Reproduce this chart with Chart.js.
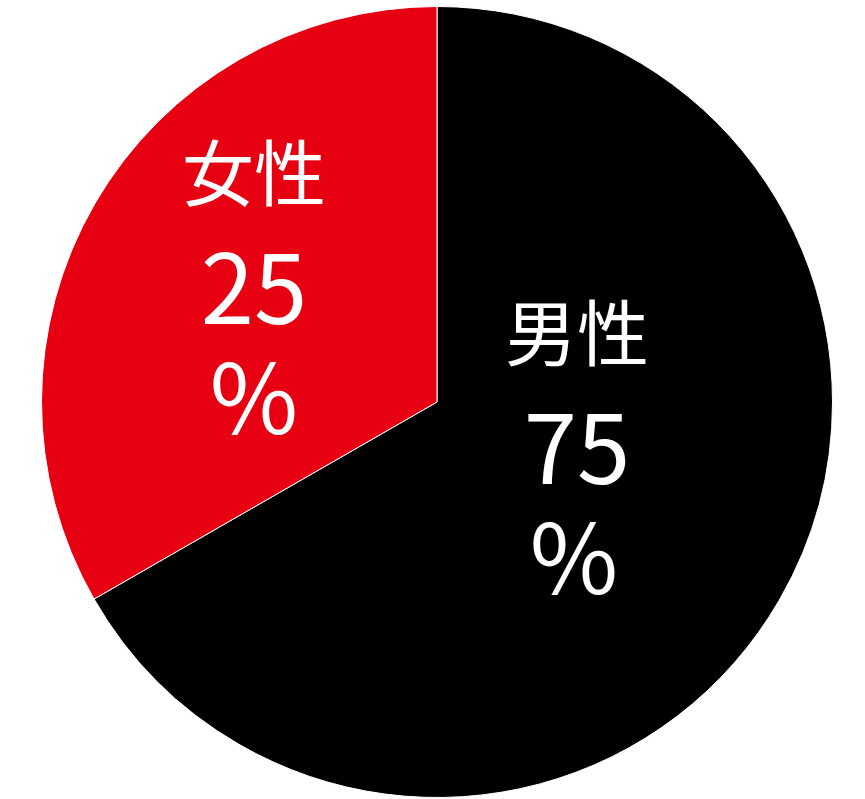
<!DOCTYPE html>
<html lang="ja">
<head>
  <meta charset="UTF-8">
  <title>男女比</title>
  <script src="https://cdn.jsdelivr.net/npm/chart.js"></script>
  <style>
    html, body { margin: 0; padding: 0; background: #fff; }
    canvas { display: block; }
  </style>
</head>
<body>
  <canvas id="myChart" width="865" height="799"></canvas>

  <script>
    // slice sizes as drawn in the picture (the red slice covers about a third)
    const categories = ['男性', '女性'];
    const sliceValues = [66.7, 33.3];
    // percentages printed on the slices
    const percentLabels = ['75', '25'];
    const sliceColors = ['#000000', '#E60012'];

    // where each label block sits, relative to the pie centre (px)
    const labelOffsets = [
      { x: 140, y: [-69, 46, 156] },
      { x: -183, y: [-229, -114, -4] }
    ];

    const sliceLabels = {
      id: 'sliceLabels',
      afterDatasetsDraw(chart) {
        const ctx = chart.ctx;
        const arc = chart.getDatasetMeta(0).data[0];
        const cx = arc.x;
        const cy = arc.y;
        ctx.save();
        ctx.fillStyle = '#ffffff';
        ctx.textAlign = 'center';
        ctx.textBaseline = 'middle';
        categories.forEach((name, i) => {
          const off = labelOffsets[i];
          ctx.font = '72px "Noto Sans CJK JP"';
          ctx.fillText(name, cx + off.x, cy + off.y[0]);
          ctx.font = '96px "Noto Sans CJK JP"';
          ctx.fillText(percentLabels[i], cx + off.x, cy + off.y[1]);
          ctx.fillText('%', cx + off.x - 3 * (i === 0 ? 1 : 0), cy + off.y[2]);
        });
        ctx.restore();
      }
    };

    const ctx = document.getElementById('myChart').getContext('2d');
    const myChart = new Chart(ctx, {
      type: 'pie',
      data: {
        labels: categories,
        datasets: [{
          data: sliceValues,
          backgroundColor: sliceColors,
          borderColor: '#ffffff',
          borderWidth: 1
        }]
      },
      options: {
        responsive: false,
        animation: false,
        devicePixelRatio: 1,
        layout: { padding: { top: 6, bottom: 1, left: 9, right: 0 } },
        plugins: {
          legend: { display: false },
          tooltip: { enabled: false }
        }
      },
      plugins: [sliceLabels]
    });
  </script>
</body>
</html>
